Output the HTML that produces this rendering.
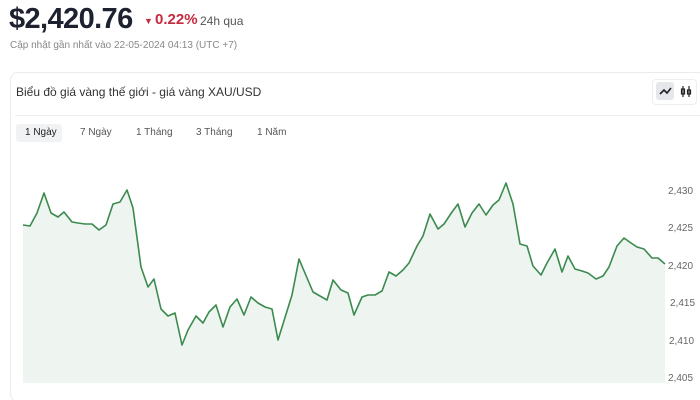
<!DOCTYPE html>
<html style="height:400px;overflow:hidden"><head><meta charset="utf-8"><style>
body{margin:0;width:700px;height:400px;background:#fff;font-family:"Liberation Sans","Noto Sans CJK SC",sans-serif;overflow:hidden;position:relative;color:#222}
.a{position:absolute;white-space:nowrap}
</style></head><body>
<div class="a" style="left:9px;top:3px;font-size:29px;font-weight:bold;color:#1d2130;letter-spacing:-0.6px">$2,420.76</div>
<div class="a" style="left:144px;top:16px;font-size:9px;color:#c62a3e">▼</div>
<div class="a" style="left:155px;top:11px;font-size:15px;font-weight:bold;color:#c62a3e">0.22%</div>
<div class="a" style="left:200px;top:14px;font-size:12px;color:#555">24h qua</div>
<div class="a" style="left:10px;top:40px;font-size:10px;color:#888">Cập nhật gần nhất vào 22-05-2024 04:13 (UTC +7)</div>
<div class="a" style="left:10px;top:72px;width:700px;height:330px;border:1px solid #ebebeb;border-radius:8px;box-sizing:border-box"></div>
<div class="a" style="left:16px;top:85px;font-size:12px;color:#333">Biểu đồ giá vàng thế giới - giá vàng XAU/USD</div>
<div class="a" style="left:15px;top:115px;width:685px;height:1px;background:#eee"></div>
<div class="a" style="left:652px;top:79px;width:45px;height:26px;border:1px solid #eee;border-radius:4px;box-sizing:border-box"></div>
<div class="a" style="left:656px;top:82px;width:18px;height:18px;background:#e5e7eb;border-radius:3px"></div>
<svg class="a" style="left:656px;top:82px" width="40" height="18"><polyline points="4,12 8,8 11,11 15,6" fill="none" stroke="#222" stroke-width="1.6"/><g stroke="#222" stroke-width="1.2" fill="none"><line x1="27" y1="4" x2="27" y2="15"/><rect x="25.5" y="7" width="3" height="5"/><line x1="33" y1="4" x2="33" y2="15"/><rect x="31.5" y="8" width="3" height="4"/></g></svg>
<div class="a" style="left:16px;top:124px;width:46px;height:18px;background:#f1f2f4;border-radius:3px"></div>
<div class="a" style="left:25px;top:127px;font-size:10px;color:#222">1 Ngày</div>
<div class="a" style="left:80px;top:127px;font-size:10px;color:#555">7 Ngày</div>
<div class="a" style="left:136px;top:127px;font-size:10px;color:#555">1 Tháng</div>
<div class="a" style="left:196px;top:127px;font-size:10px;color:#555">3 Tháng</div>
<div class="a" style="left:257px;top:127px;font-size:10px;color:#555">1 Năm</div>
<svg class="a" style="left:0;top:0" width="700" height="400">
<defs><polyline id="l" points="23,225 30,226 37,213 44,193 51,213 58,217 64,212 72,222 78,223 85,224 92,224 99,230 106,225 113,204 120,202 127,190 133,208 141,267 148,287 154,279 161,309 168,316 175,313 182,345 188,330 196,316 203,323 209,312 216,305 223,327 230,307 237,299 244,315 251,297 258,303 265,307 272,309 278,340 292,295 299,259 313,292 327,300 333,280 341,290 348,293 354,315 362,297 368,295 375,295 382,291 389,272 396,276 403,270 409,263 417,246 423,236 430,214 438,229 444,224 452,212 458,204 465,227 472,213 479,204 486,215 493,205 499,200 506,183 513,204 520,244 527,246 533,266 541,275 547,263 555,249 562,272 568,256 575,269 582,271 588,273 596,279 603,276 609,267 617,246 624,238 631,243 637,247 644,249 652,258 658,258 665,264"/></defs>
<polygon points="23,225 30,226 37,213 44,193 51,213 58,217 64,212 72,222 78,223 85,224 92,224 99,230 106,225 113,204 120,202 127,190 133,208 141,267 148,287 154,279 161,309 168,316 175,313 182,345 188,330 196,316 203,323 209,312 216,305 223,327 230,307 237,299 244,315 251,297 258,303 265,307 272,309 278,340 292,295 299,259 313,292 327,300 333,280 341,290 348,293 354,315 362,297 368,295 375,295 382,291 389,272 396,276 403,270 409,263 417,246 423,236 430,214 438,229 444,224 452,212 458,204 465,227 472,213 479,204 486,215 493,205 499,200 506,183 513,204 520,244 527,246 533,266 541,275 547,263 555,249 562,272 568,256 575,269 582,271 588,273 596,279 603,276 609,267 617,246 624,238 631,243 637,247 644,249 652,258 658,258 665,264 665,383 23,383" fill="#eef5f0"/>
<use href="#l" fill="none" stroke="#3b8a4e" stroke-width="1.6" stroke-linejoin="round"/>
<g font-size="10" fill="#666" font-family="Liberation Sans,sans-serif">
<text x="668" y="194">2,430</text><text x="668" y="231">2,425</text><text x="668" y="269">2,420</text><text x="670" y="306">2,415</text><text x="669" y="344">2,410</text><text x="668" y="381">2,405</text></g>
</svg>
</body></html>
